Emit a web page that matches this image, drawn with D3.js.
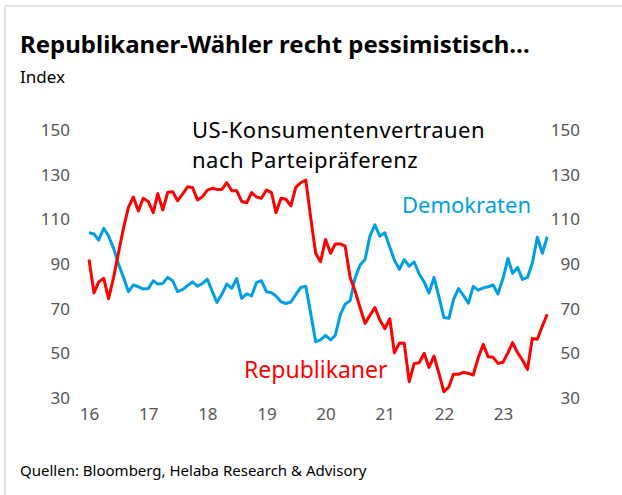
<!DOCTYPE html>
<html><head><meta charset="utf-8">
<script src="https://cdn.jsdelivr.net/npm/d3@7"></script>
<style>
html,body{margin:0;padding:0;background:#fff;}
svg{display:block;font-family:"Noto Sans",sans-serif;}
</style></head>
<body><svg id="c" width="622" height="495"></svg>
<script>
const startYear = 2016, startMonth = 0;
const republikaner = [92,77,82,83.6,74.5,84,95,106,115.5,120,113.7,119.4,118,113,121.5,114.2,122,122.4,118.3,121.3,124.6,124.3,118.7,120.1,123.1,123.9,123.4,123.4,126.4,122.8,122.8,118,117.4,122,120,119.4,123.1,122,113,119.4,119,116,124.3,126.4,127.6,111,94.8,91,101,94.8,99,99,98,84,78,70.5,63.4,67,70.5,65,61,65.5,50.2,54.6,54.5,37.3,45.4,45.8,50,43.7,48.8,41,32.8,35,40.6,40.6,41.5,41,40.3,48,54,48.5,48.2,45.5,46,50.3,54.8,50.3,47,42.8,56.7,56.3,62.2,67.5];
const demokraten = [104,103.4,100.7,106,102.5,97,90,84,77.6,80.6,79.8,78.8,79,82.5,81,81.3,84,82.5,77.6,78.5,80.4,82,80.1,81.2,83.2,77.6,72.8,76.5,81,79.1,83.5,74.6,76.6,75.7,81.8,82.5,77.6,77.1,75.7,73.1,72.3,73,76.3,79.5,80,68,55.2,56,58,56,58,67.2,72,73.6,83.6,89.5,92,102.5,107.5,102.5,104,97.5,91.8,87.6,92,89,91,85.5,82,77,84,75.4,66,65.7,74,79,76,72.4,80,78.3,79.3,79.8,80.6,76.6,83.6,92.5,85.8,88.5,83.1,84,90.3,102,94.8,102.2];
const yTicks = [30,50,70,90,110,130,150];
const xTickYears = [2016,2017,2018,2019,2020,2021,2022,2023];

const dates = republikaner.map((d,i)=>new Date(startYear, startMonth+i, 1));
const svg = d3.select("#c");

// frame
svg.append("line").attr("x1",5).attr("y1",6).attr("x2",622).attr("y2",6).attr("stroke","#e3e3e3").attr("stroke-width",2);
svg.append("line").attr("x1",5).attr("y1",6).attr("x2",5).attr("y2",495).attr("stroke","#e3e3e3").attr("stroke-width",2);

const x = d3.scaleTime().domain([new Date(2016,0,1), new Date(2023,0,1)]).range([89,503]);
const y = d3.scaleLinear().domain([30,150]).range([398,130]);

svg.append("text").attr("x",20).attr("y",53).attr("font-size",24).attr("font-weight","bold").attr("fill","#000")
  .text("Republikaner-Wähler recht pessimistisch…");
svg.append("text").attr("x",20).attr("y",83).attr("font-size",17).attr("fill","#000").text("Index");

const axL = d3.axisLeft(y).tickValues(yTicks).tickSize(0).tickPadding(0);
const gL = svg.append("g").attr("transform","translate(70,0)").call(axL);
const axR = d3.axisLeft(y).tickValues(yTicks).tickSize(0).tickPadding(0);
const gR = svg.append("g").attr("transform","translate(580,0)").call(axR);
const axB = d3.axisBottom(x).tickValues(xTickYears.map(v=>new Date(v,0,1))).tickFormat(d3.timeFormat("%y")).tickSize(0).tickPadding(0);
const gB = svg.append("g").attr("transform","translate(0,408)").call(axB);
[gL,gR,gB].forEach(g=>{
  g.select(".domain").remove();
  g.selectAll("text").attr("font-size",17).attr("fill","#555").attr("font-family","\"Noto Sans\",sans-serif");
});

const line = d3.line().x((d,i)=>x(dates[i])).y(d=>y(d));
svg.append("path").datum(demokraten).attr("d",line).attr("fill","none").attr("stroke","#009fe3").attr("stroke-width",3).attr("stroke-linejoin","round");
svg.append("path").datum(republikaner).attr("d",line).attr("fill","none").attr("stroke","#ff0000").attr("stroke-width",3).attr("stroke-linejoin","round");

svg.append("text").attr("x",192).attr("y",138).attr("font-size",22).attr("letter-spacing",0.5).attr("fill","#000").text("US-Konsumentenvertrauen");
svg.append("text").attr("x",192).attr("y",168).attr("font-size",22).attr("letter-spacing",0.5).attr("fill","#000").text("nach Parteipräferenz");
svg.append("text").attr("x",402).attr("y",213).attr("font-size",22).attr("fill","#009fe3").text("Demokraten");
svg.append("text").attr("x",244).attr("y",378).attr("font-size",23).attr("fill","#ff0000").text("Republikaner");

svg.append("text").attr("x",20).attr("y",476).attr("font-size",15).attr("fill","#000").text("Quellen: Bloomberg, Helaba Research & Advisory");
</script></body></html>
